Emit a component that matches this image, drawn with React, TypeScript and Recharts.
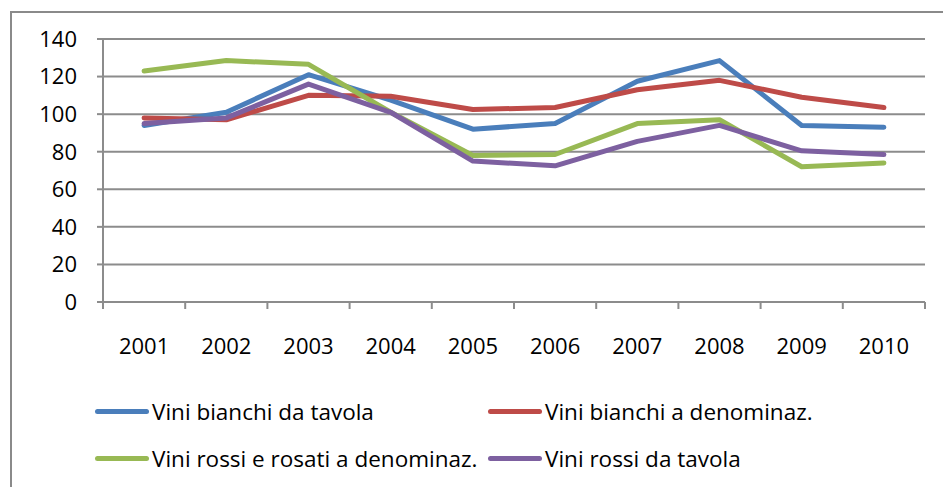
import React from "react";
import { LineChart, Line, XAxis, YAxis, CartesianGrid } from "recharts";

const YEARS = ["2001", "2002", "2003", "2004", "2005", "2006", "2007", "2008", "2009", "2010"];

const BIANCHI_TAVOLA = [94, 101, 121, 107.5, 92, 95, 117.5, 128.5, 94, 93];
const BIANCHI_DENOM = [98, 97, 110, 109.5, 102.5, 103.5, 113, 118, 109, 103.5];
const ROSSI_DENOM = [123, 128.5, 126.5, 101, 78, 78.5, 95, 97, 72, 74];
const ROSSI_TAVOLA = [95, 98, 116, 101, 75, 72.5, 85.5, 94, 80.5, 78.5];

const Y_TICKS = [0, 20, 40, 60, 80, 100, 120, 140];

const SERIES = [
  { key: "bt", name: "Vini bianchi da tavola", color: "#4a7ebb", values: BIANCHI_TAVOLA },
  { key: "bd", name: "Vini bianchi a denominaz.", color: "#be4b48", values: BIANCHI_DENOM },
  { key: "rd", name: "Vini rossi e rosati a denominaz.", color: "#98b954", values: ROSSI_DENOM },
  { key: "rt", name: "Vini rossi da tavola", color: "#7d60a0", values: ROSSI_TAVOLA },
];

const data = YEARS.map((year, i) => {
  const row: Record<string, string | number> = { year };
  SERIES.forEach((s) => (row[s.key] = s.values[i]));
  return row;
});

const W = 943;
const H = 487;
const PLOT_LEFT = 103;
const PLOT_RIGHT = 925;
const STEP = (PLOT_RIGHT - PLOT_LEFT) / YEARS.length;
const AXIS = "#8c8c8c";
const FONT = "'Open Sans', sans-serif";

// Excel-style category axis: tick marks sit between categories
const XTick = (props: any) => {
  const { x, y, payload, index } = props;
  const half = STEP / 2;
  return (
    <g>
      <line x1={x - half} x2={x - half} y1={y} y2={y + 7} stroke={AXIS} strokeWidth={2} />
      {index === YEARS.length - 1 && (
        <line x1={x + half} x2={x + half} y1={y} y2={y + 7} stroke={AXIS} strokeWidth={2} />
      )}
      <text x={x} y={y + 52} textAnchor="middle" fill="#000" fontSize={22} fontFamily={FONT}>
        {payload.value}
      </text>
    </g>
  );
};

// legend drawn outside the chart so it doesn't eat plot height
const ChartLegend = () => (
  <div style={{ position: "absolute", left: 95, top: 396, width: 800, height: 80 }}>
    {SERIES.map((s, i) => {
      const col = i % 2;
      const row = Math.floor(i / 2);
      return (
        <div
          key={s.key}
          style={{
            position: "absolute",
            left: col * 393,
            top: row * 47,
            display: "flex",
            alignItems: "center",
            height: 30,
            fontFamily: FONT,
            fontSize: 22.5,
            color: "#000",
            whiteSpace: "nowrap",
          }}
        >
          <div
            style={{
              width: 54,
              height: 5,
              borderRadius: 3,
              background: s.color,
              marginRight: 3,
            }}
          />
          <span>{s.name}</span>
        </div>
      );
    })}
  </div>
);

export default function App() {
  return (
    <div
      style={{
        position: "absolute",
        left: 0,
        top: 0,
        width: W,
        height: H,
        overflow: "hidden",
        background: "#fff",
      }}
    >
      <div
        style={{
          position: "absolute",
          left: 10,
          top: 11,
          width: W,
          height: H,
          border: "2px solid #8a8a8a",
        }}
      />
      <div style={{ position: "absolute", left: 0, top: 0 }}>
        <LineChart
          width={W}
          height={H}
          data={data}
          margin={{ top: 39, right: W - PLOT_RIGHT, bottom: 125, left: 0 }}
        >
          <CartesianGrid vertical={false} stroke={AXIS} strokeWidth={2} />
          <XAxis
            dataKey="year"
            padding={{ left: STEP / 2, right: STEP / 2 }}
            axisLine={{ stroke: AXIS, strokeWidth: 2 }}
            tickLine={false}
            tickSize={0}
            tickMargin={0}
            height={60}
            tick={<XTick />}
            interval={0}
          />
          <YAxis
            width={PLOT_LEFT}
            domain={[0, 140]}
            ticks={Y_TICKS}
            interval={0}
            axisLine={{ stroke: AXIS, strokeWidth: 2 }}
            tickLine={{ stroke: AXIS, strokeWidth: 2 }}
            tickSize={6}
            tickMargin={20}
            tick={{ fill: "#000", fontSize: 22, fontFamily: FONT }}
          />
          {SERIES.map((s) => (
            <Line
              key={s.key}
              type="linear"
              dataKey={s.key}
              name={s.name}
              stroke={s.color}
              strokeWidth={5}
              strokeLinecap="round"
              strokeLinejoin="round"
              dot={false}
              activeDot={false}
              isAnimationActive={false}
            />
          ))}
        </LineChart>
      </div>
      <ChartLegend />
    </div>
  );
}
